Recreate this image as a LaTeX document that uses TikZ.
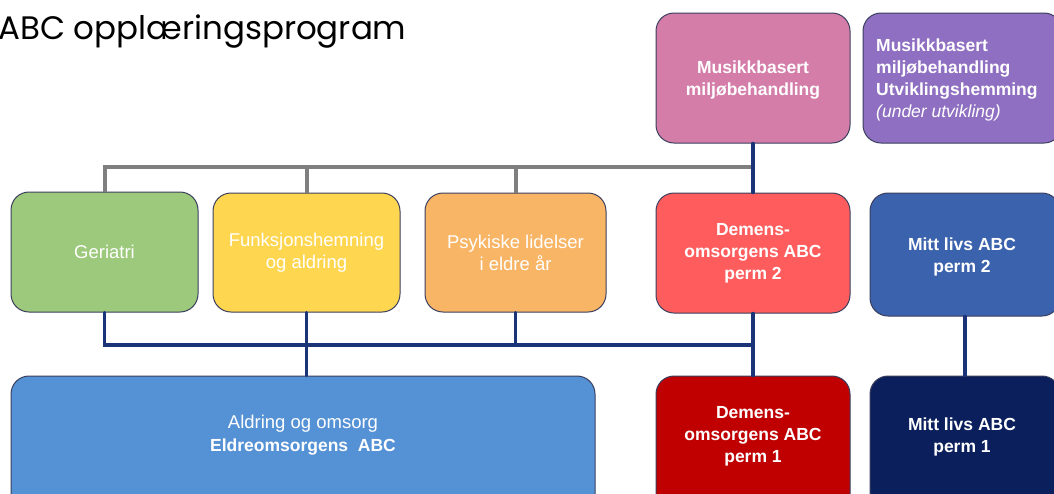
\documentclass[tikz,border=0pt]{standalone}
\usepackage{fontspec}
\setmainfont{Liberation Sans}
\newfontfamily\titlefont{Poppins}
\definecolor{cpink}{HTML}{D47DA9}
\definecolor{cpurple}{HTML}{8F6FC1}
\definecolor{cgreen}{HTML}{9CC97B}
\definecolor{cyellow}{HTML}{FFD650}
\definecolor{corange}{HTML}{F9B566}
\definecolor{cred}{HTML}{FF5D5D}
\definecolor{cblue}{HTML}{3B62AC}
\definecolor{clblue}{HTML}{5591D5}
\definecolor{cdred}{HTML}{C00000}
\definecolor{cnavy}{HTML}{0B1F5C}
\definecolor{cline}{HTML}{1B3478}
\definecolor{cgrayline}{HTML}{7F7F7F}
\definecolor{cborder}{HTML}{3B3F5E}
\tikzset{
  box/.style={draw=cborder, line width=1pt, rounded corners=18pt, text=white, align=center, inner sep=0pt},
  boldtxt/.style={font=\fontsize{17.5}{22}\selectfont\bfseries},
  regtxt/.style={font=\fontsize{18.5}{22}\selectfont},
  navyline/.style={draw=cline, line width=3.5pt, line cap=round},
  grayline/.style={draw=cgrayline, line width=4pt},
}
\begin{document}
\begin{tikzpicture}[x=1pt,y=-1pt]
\clip (0,0) rectangle (1054,493);
\fill[white] (0,0) rectangle (1054,493);
% title
\node[anchor=base west, inner sep=0pt, font=\titlefont\fontsize{32.5}{36}\selectfont] (title) at (-2,39) {ABC opplæringsprogram};
% top row
\node[box, fill=cpink, minimum width=194pt, minimum height=130pt] (mus) at (753,78) {};
\node[text=white, align=center, inner sep=0pt, boldtxt] (mustxt) at (753,80) {Musikkbasert\\miljøbehandling};
\node[box, fill=cpurple, minimum width=199pt, minimum height=130pt] (pur) at (962.5,78) {};
\node[anchor=north west, align=left, text=white, inner sep=0pt, boldtxt] (purtxt) at (876,39)
  {Musikkbasert\\miljøbehandling\\Utviklingshemming\\{\mdseries\itshape (under utvikling)}};
% middle row
\node[box, fill=cgreen, regtxt, minimum width=187pt, minimum height=120pt] (ger) at (104.5,252) {Geriatri};
\node[box, fill=cyellow, regtxt, minimum width=187pt, minimum height=119pt] (fun) at (306.5,252.5) {Funksjonshemning\\og aldring};
\node[box, fill=corange, regtxt, minimum width=181pt, minimum height=119pt] (psy) at (515.5,252.5) {Psykiske lidelser\\i eldre år};
\node[box, fill=cred, boldtxt, minimum width=194pt, minimum height=120pt] (dem2) at (753,253) {Demens-\\omsorgens ABC\\perm 2};
\node[box, fill=cblue, minimum width=190pt, minimum height=123pt] (mit2) at (965,254.5) {};
\node[text=white, align=center, inner sep=0pt, boldtxt] (mit2txt) at (962,257) {Mitt livs ABC\\perm 2};
% bottom row
\node[box, fill=clblue, minimum width=584pt, minimum height=140pt] (ald) at (303,446) {};
\node[text=white, align=center, inner sep=0pt, font=\fontsize{18.5}{23}\selectfont] (aldtxt) at (303,435) {Aldring og omsorg\\{\fontsize{17.5}{23}\selectfont\bfseries Eldreomsorgens\ \ ABC}};
\node[box, fill=cdred, minimum width=194pt, minimum height=140pt] (dem1) at (753,446) {};
\node[text=white, align=center, inner sep=0pt, boldtxt] (dem1txt) at (753,436) {Demens-\\omsorgens ABC\\perm 1};
\node[box, fill=cnavy, minimum width=190pt, minimum height=140pt] (mit1) at (965,446) {};
\node[text=white, align=center, inner sep=0pt, boldtxt] (mit1txt) at (962,437) {Mitt livs ABC\\perm 1};
% connectors
\coordinate (gr) at (753,167);
\coordinate (nb) at (753,345);
\draw[grayline] (ger.north) |- (gr);
\draw[grayline] (fun.north) -- (fun.north |- gr);
\draw[grayline] (psy.north) -- (psy.north |- gr);
\draw[navyline] (mus.south) -- (dem2.north);
\draw[navyline] (ger.south) |- (nb);
\draw[navyline] (psy.south) -- (psy.south |- nb);
\draw[navyline] (fun.south) -- (fun.south |- ald.north);
\draw[navyline] (dem2.south) -- (dem1.north);
\draw[navyline] (mit2.south) -- (mit1.north);
\end{tikzpicture}
\end{document}
